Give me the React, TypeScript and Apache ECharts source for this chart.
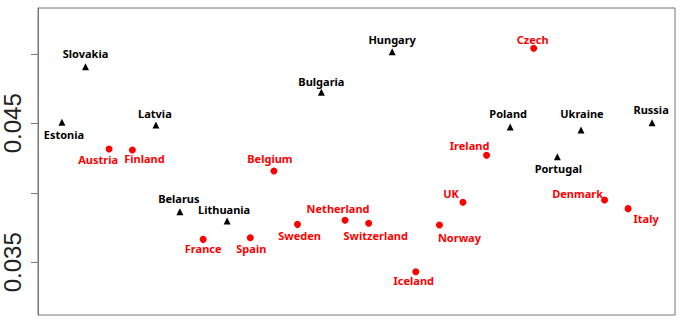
import React, { useEffect, useRef } from "react";
import * as echarts from "echarts";

// Black triangles group
const triNames = ["Slovakia", "Estonia", "Latvia", "Bulgaria", "Belarus", "Lithuania", "Hungary", "Poland", "Ukraine", "Russia", "Portugal"];
const triX = [7.46, 3.76, 18.51, 44.49, 22.27, 29.69, 55.6, 74.13, 85.24, 96.4, 81.53];
const triY = [0.04907, 0.04507, 0.04488, 0.04723, 0.03864, 0.03797, 0.05015, 0.04473, 0.04452, 0.04504, 0.0426];

// Red circles group
const dotNames = ["Austria", "Finland", "Belgium", "France", "Spain", "Sweden", "Netherland", "Switzerland", "Norway", "UK", "Iceland", "Ireland", "Czech", "Denmark", "Italy"];
const dotX = [11.16, 14.82, 37.04, 25.93, 33.33, 40.74, 48.2, 51.91, 63.02, 66.71, 59.31, 70.42, 77.82, 88.94, 92.64];
const dotY = [0.04315, 0.04308, 0.04157, 0.03665, 0.03677, 0.03773, 0.03802, 0.03781, 0.03768, 0.03932, 0.03432, 0.0427, 0.0504, 0.03948, 0.03886];

// Y axis ticks and labels
const yTicks = [0.035, 0.04, 0.045, 0.05];
const yLabels = [0.035, 0.045];

// Label placement (layout, pixels relative to the marker)
const labelOffsets: Record<string, [number, number]> = {
  Slovakia: [0, -13], Estonia: [2, 12], Latvia: [-1, -11], Bulgaria: [0, -11], Belarus: [-1, -13],
  Lithuania: [-3, -12], Hungary: [0, -12], Poland: [-2, -14], Ukraine: [1, -16], Russia: [-1, -13],
  Portugal: [1, 12], Austria: [-11, 10], Finland: [12, 9], Belgium: [-4, -12], France: [0, 9],
  Spain: [1, 11], Sweden: [2, 11], Netherland: [-7, -12], Switzerland: [7, 12], Norway: [20, 12],
  UK: [-12, -9], Iceland: [-2, 9], Ireland: [-17, -10], Czech: [-1, -9], Denmark: [-27, -7], Italy: [18, 10],
};

function buildData(names: string[], xs: number[], ys: number[]) {
  return names.map((n, i) => ({
    name: n,
    value: [xs[i], ys[i]],
    label: { offset: labelOffsets[n] || [0, 0] },
  }));
}

export default function App() {
  const ref = useRef<HTMLDivElement>(null);
  useEffect(() => {
    if (!ref.current) return;
    const chart = echarts.init(ref.current, null, { renderer: "svg" });
    const labelBase = {
      show: true,
      position: "inside",
      align: "center",
      verticalAlign: "middle",
      formatter: "{b}",
      fontFamily: "Noto Sans",
      fontWeight: "bold",
      fontSize: 11,
    };
    chart.setOption({
      animation: false,
      backgroundColor: "#ffffff",
      grid: {
        left: 36,
        top: 8,
        width: 639,
        height: 307,
        show: true,
        borderColor: "#777",
        borderWidth: 1,
        backgroundColor: "transparent",
      },
      xAxis: {
        type: "value",
        min: 0,
        max: 100,
        axisLine: { show: false },
        axisTick: { show: false },
        axisLabel: { show: false },
        splitLine: { show: false },
      },
      yAxis: {
        type: "value",
        min: 0.031209,
        max: 0.053295,
        axisLine: { show: true, lineStyle: { color: "#777", width: 1 } },
        axisTick: { show: true, length: 7, lineStyle: { color: "#777" }, customValues: yTicks },
        axisLabel: {
          show: true,
          customValues: yLabels,
          rotate: 90,
          margin: 14,
          color: "#222",
          fontFamily: "Liberation Sans, Arial, sans-serif",
          fontSize: 24,
          formatter: (v: number) => v.toFixed(3),
        },
        splitLine: { show: false },
      },
      series: [
        {
          type: "scatter",
          symbol: "triangle",
          symbolSize: 7,
          itemStyle: { color: "#000", opacity: 1 },
          label: { ...labelBase, color: "#000" },
          data: buildData(triNames, triX, triY),
        },
        {
          type: "scatter",
          symbol: "circle",
          symbolSize: 7,
          itemStyle: { color: "#ff0000", opacity: 1 },
          label: { ...labelBase, color: "#ff0000" },
          data: buildData(dotNames, dotX, dotY),
        },
      ],
    });
    return () => chart.dispose();
  }, []);
  return <div ref={ref} style={{ width: 680, height: 320, position: "absolute", left: 0, top: 0 }} />;
}
